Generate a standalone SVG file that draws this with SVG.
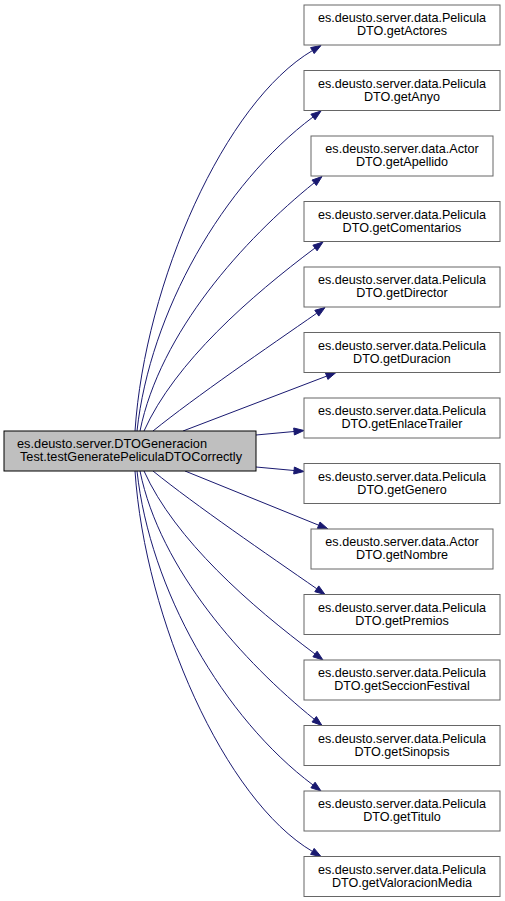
<svg xmlns="http://www.w3.org/2000/svg" width="505" height="901" viewBox="0 0 505 901">
<style>
text{font-family:"Liberation Sans",Arial,sans-serif;font-size:12.6px;fill:#000}
.n rect{fill:#fff;stroke:#666;stroke-width:1}
.m{text-anchor:middle}
#edges path{fill:none;stroke:#191970;stroke-width:1}
#edges polygon{fill:#191970;stroke:#191970;stroke-width:1}
</style>
<rect width="505" height="901" fill="#fff"/>
<g id="edges">
<path d="M135,431 C145,282 225,102 312.4,50.6"/><polygon points="321,45.5 310.6,47.6 314.2,53.6"/>
<path d="M137,431 C150,312 223,184.5 313,117"/><polygon points="321,111 310.9,114.2 315.1,119.8"/>
<path d="M140,431 C160,332 244,239.5 314.2,182.8"/><polygon points="322,176.5 312,180.1 316.4,185.5"/>
<path d="M144,431 C175,362 251,296 315,248"/><polygon points="323,242 312.9,245.2 317.1,250.8"/>
<path d="M153,431 C195,397 267.6,347.4 316.8,313.2"/><polygon points="325,307.5 314.8,310.3 318.8,316.1"/>
<path d="M183,431 L326.7,376.1"/><polygon points="336,372.5 327.9,379.4 325.4,372.8"/>
<path d="M256,435 L294.05,431.5"/><polygon points="304,430.5 293.7,428 294.4,435"/>
<path d="M256,467 L294.05,470.5"/><polygon points="304,471.5 293.7,474 294.4,467"/>
<path d="M185,471 L318.7,525.2"/><polygon points="328,529 317.4,528.4 320,522"/>
<path d="M153,471 C195,505 267.6,554.6 316.8,588.8"/><polygon points="325,594.5 314.8,591.7 318.8,585.9"/>
<path d="M144,471 C175,540 251,606 315,654"/><polygon points="323,660 312.9,656.8 317.1,651.2"/>
<path d="M140,471 C160,570 244,662.5 314.2,719.2"/><polygon points="322,725.5 312,721.9 316.4,716.5"/>
<path d="M137,471 C150,590 223,717.5 313,785"/><polygon points="321,791 310.9,787.8 315.1,782.2"/>
<path d="M135,471 C145,620 225,800 312.4,851.4"/><polygon points="321,856.5 310.6,854.4 314.2,848.4"/>
</g>
<g id="main"><rect x="4" y="431" width="252" height="40" fill="#bfbfbf" stroke="#000"/><text x="17" y="448.3" textLength="190" lengthAdjust="spacingAndGlyphs">es.deusto.server.DTOGeneracion</text><text class="m" x="131" y="461" textLength="222" lengthAdjust="spacingAndGlyphs">Test.testGeneratePeliculaDTOCorrectly</text></g>
<g id="n0" class="n"><rect x="304" y="5" width="196" height="40"/><text class="m" x="402" y="22.3">es.deusto.server.data.Pelicula</text><text class="m" x="402" y="35.3">DTO.getActores</text></g>
<g id="n1" class="n"><rect x="304" y="70.5" width="196" height="40"/><text class="m" x="402" y="87.8">es.deusto.server.data.Pelicula</text><text class="m" x="402" y="100.8">DTO.getAnyo</text></g>
<g id="n2" class="n"><rect x="311" y="136" width="182" height="40"/><text class="m" x="402" y="153.3">es.deusto.server.data.Actor</text><text class="m" x="402" y="166.3">DTO.getApellido</text></g>
<g id="n3" class="n"><rect x="304" y="201.5" width="196" height="40"/><text class="m" x="402" y="218.8">es.deusto.server.data.Pelicula</text><text class="m" x="402" y="231.8">DTO.getComentarios</text></g>
<g id="n4" class="n"><rect x="304" y="267" width="196" height="40"/><text class="m" x="402" y="284.3">es.deusto.server.data.Pelicula</text><text class="m" x="402" y="297.3">DTO.getDirector</text></g>
<g id="n5" class="n"><rect x="304" y="332.5" width="196" height="40"/><text class="m" x="402" y="349.8">es.deusto.server.data.Pelicula</text><text class="m" x="402" y="362.8">DTO.getDuracion</text></g>
<g id="n6" class="n"><rect x="304" y="398" width="196" height="40"/><text class="m" x="402" y="415.3">es.deusto.server.data.Pelicula</text><text class="m" x="402" y="428.3">DTO.getEnlaceTrailer</text></g>
<g id="n7" class="n"><rect x="304" y="463.5" width="196" height="40"/><text class="m" x="402" y="480.8">es.deusto.server.data.Pelicula</text><text class="m" x="402" y="493.8">DTO.getGenero</text></g>
<g id="n8" class="n"><rect x="311" y="529" width="182" height="40"/><text class="m" x="402" y="546.3">es.deusto.server.data.Actor</text><text class="m" x="402" y="559.3">DTO.getNombre</text></g>
<g id="n9" class="n"><rect x="304" y="594.5" width="196" height="40"/><text class="m" x="402" y="611.8">es.deusto.server.data.Pelicula</text><text class="m" x="402" y="624.8">DTO.getPremios</text></g>
<g id="n10" class="n"><rect x="304" y="660" width="196" height="40"/><text class="m" x="402" y="677.3">es.deusto.server.data.Pelicula</text><text class="m" x="402" y="690.3">DTO.getSeccionFestival</text></g>
<g id="n11" class="n"><rect x="304" y="725.5" width="196" height="40"/><text class="m" x="402" y="742.8">es.deusto.server.data.Pelicula</text><text class="m" x="402" y="755.8">DTO.getSinopsis</text></g>
<g id="n12" class="n"><rect x="304" y="791" width="196" height="40"/><text class="m" x="402" y="808.3">es.deusto.server.data.Pelicula</text><text class="m" x="402" y="821.3">DTO.getTitulo</text></g>
<g id="n13" class="n"><rect x="304" y="856.5" width="196" height="40"/><text class="m" x="402" y="873.8">es.deusto.server.data.Pelicula</text><text class="m" x="402" y="886.8">DTO.getValoracionMedia</text></g>
</svg>
